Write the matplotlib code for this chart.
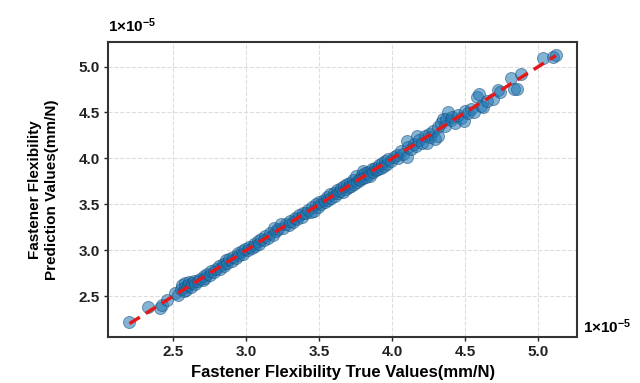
import matplotlib
matplotlib.use("Agg")
import matplotlib.pyplot as plt

# values in units of 1e-5 mm/N
true_vals = [
    2.20, 2.33, 2.41, 2.42, 2.46, 2.51, 2.53,
    2.55, 2.56, 2.57, 2.58, 2.58, 2.59, 2.60, 2.61, 2.62, 2.63, 2.64, 2.65,
    2.67, 2.68, 2.70, 2.71, 2.72, 2.73, 2.75, 2.76, 2.78, 2.79,
    2.81, 2.82, 2.84, 2.85, 2.86, 2.87, 2.88, 2.90, 2.91, 2.93, 2.94, 2.95, 2.97, 2.98, 2.99,
    3.01, 3.02, 3.04, 3.05, 3.06, 3.08, 3.09, 3.10, 3.12, 3.13, 3.15, 3.16, 3.18, 3.19, 3.20,
    3.22, 3.24, 3.25, 3.27, 3.29, 3.30, 3.32, 3.33, 3.35, 3.36, 3.38, 3.39, 3.41, 3.42, 3.44,
    3.45, 3.46, 3.48, 3.49,
    3.50, 3.51, 3.53, 3.54, 3.55, 3.56, 3.57, 3.58, 3.60, 3.61, 3.62, 3.63, 3.64, 3.65, 3.66,
    3.67, 3.68, 3.69,
    3.70, 3.71, 3.72, 3.73, 3.74, 3.75, 3.76, 3.77, 3.78, 3.79, 3.80, 3.80, 3.81, 3.82, 3.83,
    3.84, 3.85, 3.86, 3.87, 3.88, 3.89, 3.90, 3.91, 3.92, 3.93, 3.94, 3.95, 3.96, 3.97, 3.99,
    4.01, 4.03, 4.04, 4.06, 4.07, 4.10, 4.10, 4.11, 4.13, 4.15, 4.16, 4.17, 4.18, 4.20, 4.22,
    4.24, 4.25, 4.26, 4.28, 4.29, 4.31, 4.31,
    4.33, 4.35, 4.36, 4.37, 4.38, 4.40, 4.41, 4.43, 4.45, 4.47, 4.49, 4.50, 4.52, 4.54, 4.56,
    4.58, 4.59, 4.61, 4.62, 4.65, 4.69, 4.72, 4.74, 4.81, 4.83, 4.85, 4.88, 5.03, 5.10, 5.12,
]
pred_vals = [
    2.22, 2.38, 2.37, 2.40, 2.46, 2.53, 2.51,
    2.58, 2.62, 2.55, 2.60, 2.64, 2.57, 2.62, 2.65, 2.60, 2.64, 2.66, 2.63,
    2.66, 2.69, 2.67, 2.72, 2.70, 2.74, 2.73, 2.77, 2.76, 2.80,
    2.83, 2.80, 2.85, 2.83, 2.89, 2.86, 2.90, 2.88, 2.93, 2.92, 2.97, 2.95, 2.99, 2.96, 3.01,
    3.00, 3.04, 3.02, 3.07, 3.05, 3.10, 3.07, 3.12, 3.11, 3.15, 3.13, 3.19, 3.16, 3.24, 3.21,
    3.23, 3.28, 3.24, 3.29, 3.27, 3.32, 3.31, 3.35, 3.34, 3.38, 3.36, 3.41, 3.40, 3.44, 3.42,
    3.47, 3.43, 3.50, 3.47,
    3.53, 3.50, 3.55, 3.52, 3.58, 3.55, 3.61, 3.57, 3.62, 3.59, 3.66, 3.62, 3.64, 3.68, 3.63,
    3.70, 3.67, 3.72,
    3.69, 3.73, 3.70, 3.76, 3.72, 3.81, 3.74, 3.78, 3.76, 3.82, 3.86, 3.79, 3.84, 3.80, 3.85,
    3.83, 3.81, 3.88, 3.85, 3.90, 3.87, 3.88, 3.93, 3.90, 3.95, 3.92, 3.97, 3.94, 3.99, 3.97,
    4.02, 4.04, 4.00, 4.08, 4.05, 4.01, 4.19, 4.12, 4.10, 4.16, 4.13, 4.24, 4.20, 4.17, 4.24,
    4.17, 4.27, 4.23, 4.30, 4.21, 4.34, 4.24,
    4.39, 4.43, 4.35, 4.43, 4.50, 4.42, 4.45, 4.39, 4.47, 4.44, 4.41, 4.52, 4.49, 4.54, 4.51,
    4.67, 4.70, 4.57, 4.56, 4.63, 4.65, 4.74, 4.72, 4.88, 4.76, 4.76, 4.92, 5.09, 5.10, 5.13,
]
ticks = [2.5, 3.0, 3.5, 4.0, 4.5, 5.0]

plt.rcParams["font.family"] = ["Liberation Sans", "DejaVu Sans"]
plt.rcParams["font.weight"] = "bold"
plt.rcParams["mathtext.default"] = "regular"

fig = plt.figure(figsize=(6.4, 3.83), dpi=100)
ax = fig.add_axes([0.169, 0.120, 0.733, 0.770])

ax.scatter(true_vals, pred_vals, s=75, color="#1f77b4", alpha=0.55,
           edgecolors="#1b4f7a", linewidths=0.7, zorder=2)

lo, hi = min(true_vals), max(true_vals)
ax.plot([lo, hi], [lo, hi], color="#e31a1c", linestyle=(0, (3.5, 2)), linewidth=2.5, zorder=3)

pad = 0.05 * (hi - lo)
ax.set_xlim(lo - pad, hi + pad)
ax.set_ylim(lo - pad, hi + pad)
ax.set_xticks(ticks)
ax.set_yticks(ticks)
ax.set_xticklabels([f"{t:.1f}" for t in ticks], fontsize=11, fontweight="bold")
ax.set_yticklabels([f"{t:.1f}" for t in ticks], fontsize=11, fontweight="bold")
ax.tick_params(direction="out", length=3, width=1, colors="#222222", pad=3)

ax.grid(True, color="#dddddd", linestyle="--", linewidth=0.8, zorder=0)
ax.set_axisbelow(True)
for sp in ax.spines.values():
    sp.set_color("#333333")
    sp.set_linewidth(1.5)

ax.set_xlabel("Fastener Flexibility True Values(mm/N)", fontsize=12, fontweight="bold", labelpad=4)
ax.set_ylabel("Fastener Flexibility\nPrediction Values(mm/N)", fontsize=11, fontweight="bold",
              labelpad=14, linespacing=1.3)

ax.text(0.0, 1.025, r"1$\times$10$^{-5}$", transform=ax.transAxes, fontsize=11,
        fontweight="bold", ha="left", va="bottom")
ax.text(1.012, 0.005, r"1$\times$10$^{-5}$", transform=ax.transAxes, fontsize=11,
        fontweight="bold", ha="left", va="bottom")

fig.savefig("out.png", dpi=100)
